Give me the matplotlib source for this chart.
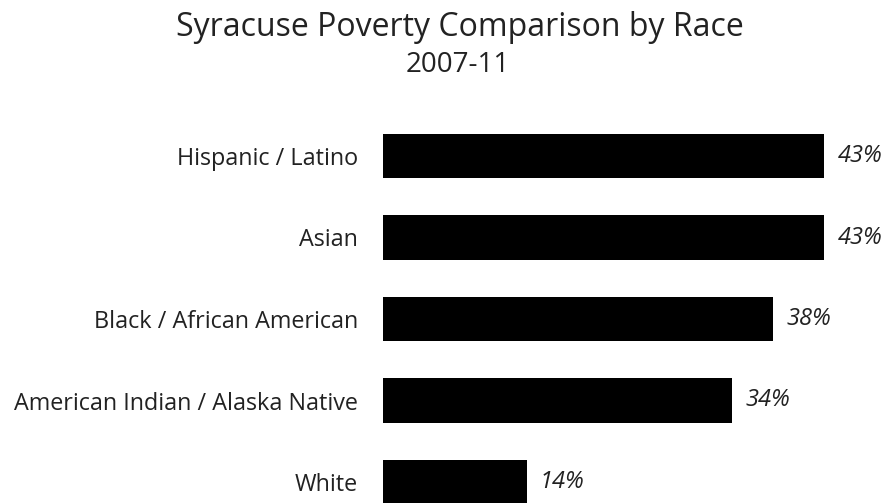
import matplotlib
matplotlib.use("Agg")
import matplotlib.pyplot as plt

categories = ["Hispanic / Latino", "Asian", "Black / African American",
              "American Indian / Alaska Native", "White"]
values = [43, 43, 38, 34, 14]
value_labels = ["43%", "43%", "38%", "34%", "14%"]

plt.rcParams['font.family'] = ['Open Sans', 'DejaVu Sans']

fig = plt.figure(figsize=(8.9, 5.03), dpi=100)
ax = fig.add_axes([383 / 890, 0, 507 / 890, 1])

pos = list(range(len(categories)))
ax.barh(pos, values, height=0.54, color='black')
for p, v, lab in zip(pos, values, value_labels):
    ax.text(v + 1.3, p, lab, va='center', ha='left', style='italic',
            fontsize=17, color='#222222')

ax.set_xlim(0, 507 / 10.26)
ax.set_ylim((503 - 156) / 81.5, -156 / 81.5)
ax.set_yticks(pos)
ax.set_yticklabels(categories, fontsize=16.8, color='#222222')
ax.tick_params(axis='y', length=0, pad=18)
ax.set_xticks([])
for s in ax.spines.values():
    s.set_visible(False)

fig.text(460 / 890, 1 - 27 / 503, "Syracuse Poverty Comparison by Race",
         ha='center', va='center', fontsize=23, color='#222222')
fig.text(458 / 890, 1 - 65 / 503, "2007-11",
         ha='center', va='center', fontsize=20, color='#222222')

fig.savefig("out.png", dpi=100)
